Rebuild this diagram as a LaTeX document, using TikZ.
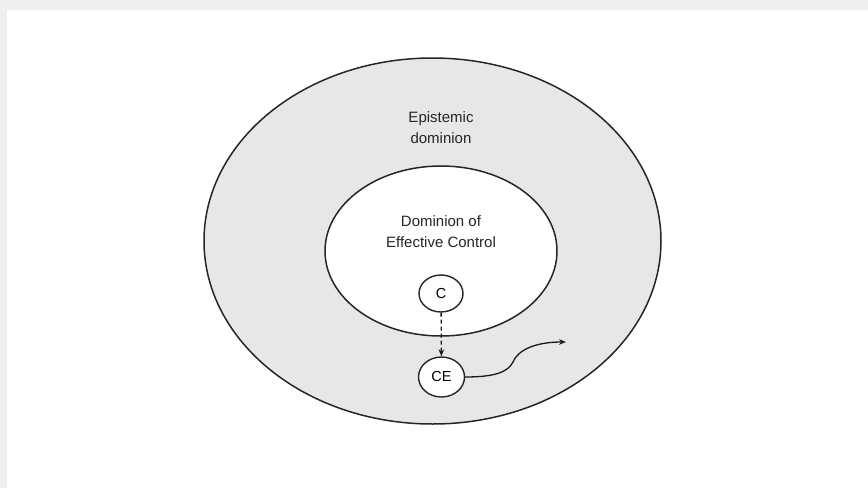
\documentclass[tikz,border=0pt]{standalone}
\usepackage{fontspec}
\setmainfont{Liberation Sans}
\usetikzlibrary{arrows.meta,shapes.geometric}
\definecolor{zonefill}{HTML}{E7E7E7}
\definecolor{edge}{HTML}{22272C}
\definecolor{pageshade}{HTML}{EFEFEF}
\tikzset{
  zone/.style={draw=edge, line width=1.5pt},
  agent/.style={draw=edge, line width=1.4pt, fill=white, ellipse, minimum width=44pt, minimum height=37pt, inner sep=0pt, font=\fontsize{14.5}{16}\selectfont},
  label/.style={align=center, font=\fontsize{15}{21}\selectfont, text=black!85},
  link/.style={line width=1.3pt, draw=black!90, -{Stealth[length=7pt,width=5.5pt]}}
}
\begin{document}
\begin{tikzpicture}[x=1pt,y=-1pt]
  \useasboundingbox (0,0) rectangle (868,488);
  % page edge
  \fill[pageshade] (0,0) rectangle (868,488);
  \fill[white] (7,10) rectangle (868,488);
  % domains
  \draw[zone, fill=zonefill] (432.5,241) ellipse [x radius=228.5, y radius=183];
  \draw[zone, fill=white] (441,251) ellipse [x radius=116, y radius=85];
  \node[label] (epi) at (441,127.5) {Epistemic\\dominion};
  \node[label] (dec) at (441,232) {Dominion of\\Effective Control};
  % agents
  \node[agent] (c) at (441,293.5) {C};
  \node[agent, minimum width=46pt, minimum height=40pt] (ce) at (441.5,377) {CE};
  \coordinate (out) at (566,342);
  \draw[link, dash pattern=on 4pt off 3pt] (c) -- (ce);
  \draw[link] (ce.east) .. controls (495,377) and (508,372) .. (513,362)
    .. controls (518,350) and (535,342) .. (out);
\end{tikzpicture}
\end{document}
